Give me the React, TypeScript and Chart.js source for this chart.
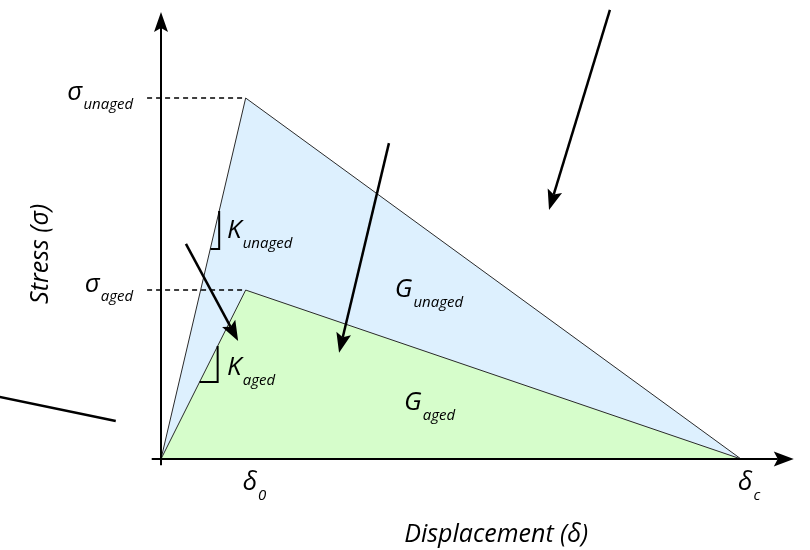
import React, { useEffect, useRef } from "react";
import { Chart, registerables } from "chart.js";

Chart.register(...registerables);

// Bilinear cohesive law, normalised: displacement key points 0, δ0, δc
const displacementPoints = [0, 0.146, 1.0];
const unagedStress = [0, 1.0, 0];
const agedStress = [0, 0.468, 0];

// Axis markers: δ0 / δc on the displacement axis, peak stresses on the stress axis
const displacementTickValues = [displacementPoints[1], displacementPoints[2]];
const displacementTickSubs = ["0", "c"];
const stressTickValues = [unagedStress[1], agedStress[1]];
const stressTickSubs = ["unaged", "aged"];

// Stiffness markers: fractions of the rising branch spanned by each slope triangle
const unagedSlopeSpan = [0.582, 0.687];
const agedSlopeSpan = [0.456, 0.669];

// Pointer arrows (data units): start, end, arrowhead drawn or not
const arrowStarts = [
  [0.774, 1.244],
  [0.393, 0.875],
  [0.043, 0.596],
  [-0.278, 0.172],
];
const arrowEnds = [
  [0.669, 0.69],
  [0.307, 0.294],
  [0.133, 0.327],
  [-0.078, 0.105],
];
const arrowHasHead = [true, true, true, false];

// Symbol labels placed inside the plot (data units, left edge / baseline)
const symbolMain = ["K", "K", "G", "G"];
const symbolSub = ["unaged", "aged", "unaged", "aged"];
const symbolX = [0.114, 0.114, 0.403, 0.419];
const symbolY = [0.612, 0.233, 0.449, 0.136];

const FONT = '"Open Sans", "DejaVu Sans", sans-serif';
const MAIN_FONT = `italic 26px ${FONT}`;
const SUB_FONT = `italic 15px ${FONT}`;
const AXIS_FONT = `italic 25px ${FONT}`;

function subLabelWidth(ctx: CanvasRenderingContext2D, main: string, sub: string) {
  ctx.font = MAIN_FONT;
  const mw = ctx.measureText(main).width;
  ctx.font = SUB_FONT;
  const sw = ctx.measureText(sub).width;
  return { mw, sw, total: mw + 1 + sw };
}

function drawSubLabel(
  ctx: CanvasRenderingContext2D,
  main: string,
  sub: string,
  left: number,
  baseline: number,
  subDrop: number
) {
  const { mw } = subLabelWidth(ctx, main, sub);
  ctx.fillStyle = "#000";
  ctx.textAlign = "left";
  ctx.textBaseline = "alphabetic";
  ctx.font = MAIN_FONT;
  ctx.fillText(main, left, baseline);
  ctx.font = SUB_FONT;
  ctx.fillText(sub, left + mw + 1, baseline + subDrop);
}

function drawHead(
  ctx: CanvasRenderingContext2D,
  tx: number,
  ty: number,
  angle: number,
  len: number,
  half: number,
  notch: number
) {
  ctx.save();
  ctx.translate(tx, ty);
  ctx.rotate(angle);
  ctx.beginPath();
  ctx.moveTo(0, 0);
  ctx.lineTo(-len, -half);
  ctx.lineTo(-len + notch, 0);
  ctx.lineTo(-len, half);
  ctx.closePath();
  ctx.fillStyle = "#000";
  ctx.fill();
  ctx.restore();
}

function drawArrow(
  ctx: CanvasRenderingContext2D,
  x0: number,
  y0: number,
  x1: number,
  y1: number,
  head: boolean,
  width: number,
  len: number,
  half: number
) {
  const angle = Math.atan2(y1 - y0, x1 - x0);
  const back = head ? len - 4 : 0;
  ctx.beginPath();
  ctx.moveTo(x0, y0);
  ctx.lineTo(x1 - Math.cos(angle) * back, y1 - Math.sin(angle) * back);
  ctx.lineWidth = width;
  ctx.strokeStyle = "#000";
  ctx.lineCap = "butt";
  ctx.stroke();
  if (head) drawHead(ctx, x1, y1, angle, len, half, 4);
}

const diagramPlugin = {
  id: "cohesiveDiagram",
  afterDatasetsDraw(chart: any) {
    const { ctx, scales } = chart;
    const px = (v: number) => scales.x.getPixelForValue(v);
    const py = (v: number) => scales.y.getPixelForValue(v);
    const peakX = displacementPoints[1];
    ctx.save();

    // dashed guides from the stress axis to each peak
    ctx.setLineDash([5, 4]);
    ctx.lineWidth = 1.5;
    ctx.strokeStyle = "#000";
    stressTickValues.forEach((v) => {
      ctx.beginPath();
      ctx.moveTo(px(-0.024), py(v));
      ctx.lineTo(px(peakX), py(v));
      ctx.stroke();
    });
    ctx.setLineDash([]);

    // axes with arrowheads
    drawArrow(ctx, px(0), py(-0.017), px(0), py(1.238), true, 2, 20, 7);
    drawArrow(ctx, px(-0.016), py(0), px(1.091), py(0), true, 2, 20, 7.5);

    // slope triangles on the rising branches
    ctx.lineWidth = 2;
    ctx.lineJoin = "miter";
    const slopeTri = (peakY: number, span: number[]) => {
      const [a, b] = span;
      ctx.beginPath();
      ctx.moveTo(px(peakX * a), py(peakY * a));
      ctx.lineTo(px(peakX * b), py(peakY * a));
      ctx.lineTo(px(peakX * b), py(peakY * b));
      ctx.stroke();
    };
    slopeTri(unagedStress[1], unagedSlopeSpan);
    slopeTri(agedStress[1], agedSlopeSpan);

    // pointer arrows
    arrowStarts.forEach((s, i) => {
      const e = arrowEnds[i];
      drawArrow(ctx, px(s[0]), py(s[1]), px(e[0]), py(e[1]), arrowHasHead[i], 2.5, 20, 7.5);
    });

    // stress axis markers, right-aligned next to the axis
    stressTickValues.forEach((v, i) => {
      const { total } = subLabelWidth(ctx, "σ", stressTickSubs[i]);
      drawSubLabel(ctx, "σ", stressTickSubs[i], px(-0.048) - total, py(v) + 2, 9);
    });

    // displacement axis markers
    displacementTickValues.forEach((v, i) => {
      drawSubLabel(ctx, "δ", displacementTickSubs[i], px(v) - 3, py(0) + 31, 10);
    });

    // K and G symbols
    symbolMain.forEach((m, i) => {
      drawSubLabel(ctx, m, symbolSub[i], px(symbolX[i]), py(symbolY[i]), 10);
    });

    // axis titles
    ctx.fillStyle = "#000";
    ctx.font = AXIS_FONT;
    ctx.textBaseline = "alphabetic";
    ctx.textAlign = "center";
    ctx.fillText("Displacement (δ)", px(0.578), py(0) + 83);
    ctx.save();
    ctx.translate(px(0) - 113, py(0.568));
    ctx.rotate(-Math.PI / 2);
    ctx.fillText("Stress (σ)", 0, 0);
    ctx.restore();

    ctx.restore();
  },
};

export default function App() {
  const canvasRef = useRef<HTMLCanvasElement | null>(null);

  useEffect(() => {
    const canvas = canvasRef.current;
    if (!canvas) return;
    const toPoints = (ys: number[]) => displacementPoints.map((x, i) => ({ x, y: ys[i] }));
    const chart = new Chart(canvas, {
      type: "scatter",
      data: {
        datasets: [
          {
            label: "Aged",
            data: toPoints(agedStress),
            showLine: true,
            fill: "origin",
            backgroundColor: "#d6fdcb",
            borderColor: "#2a2a2a",
            borderWidth: 1,
            pointRadius: 0,
            tension: 0,
            clip: false,
          },
          {
            label: "Unaged",
            data: toPoints(unagedStress),
            showLine: true,
            fill: "origin",
            backgroundColor: "#ddf0fe",
            borderColor: "#2a2a2a",
            borderWidth: 1,
            pointRadius: 0,
            tension: 0,
            clip: false,
          },
        ],
      },
      options: {
        responsive: false,
        animation: false,
        events: [],
        layout: { padding: { left: 161, right: 69, top: 98, bottom: 91 } },
        scales: {
          x: { type: "linear", min: 0, max: 1, display: false },
          y: { type: "linear", min: 0, max: 1, display: false },
        },
        plugins: {
          legend: { display: false },
          tooltip: { enabled: false },
        },
      },
      plugins: [diagramPlugin],
    } as any);
    return () => chart.destroy();
  }, []);

  return (
    <div style={{ position: "absolute", left: 0, top: 0, width: 810, height: 550, background: "#fff" }}>
      <canvas ref={canvasRef} width={810} height={550} style={{ display: "block" }} />
    </div>
  );
}
